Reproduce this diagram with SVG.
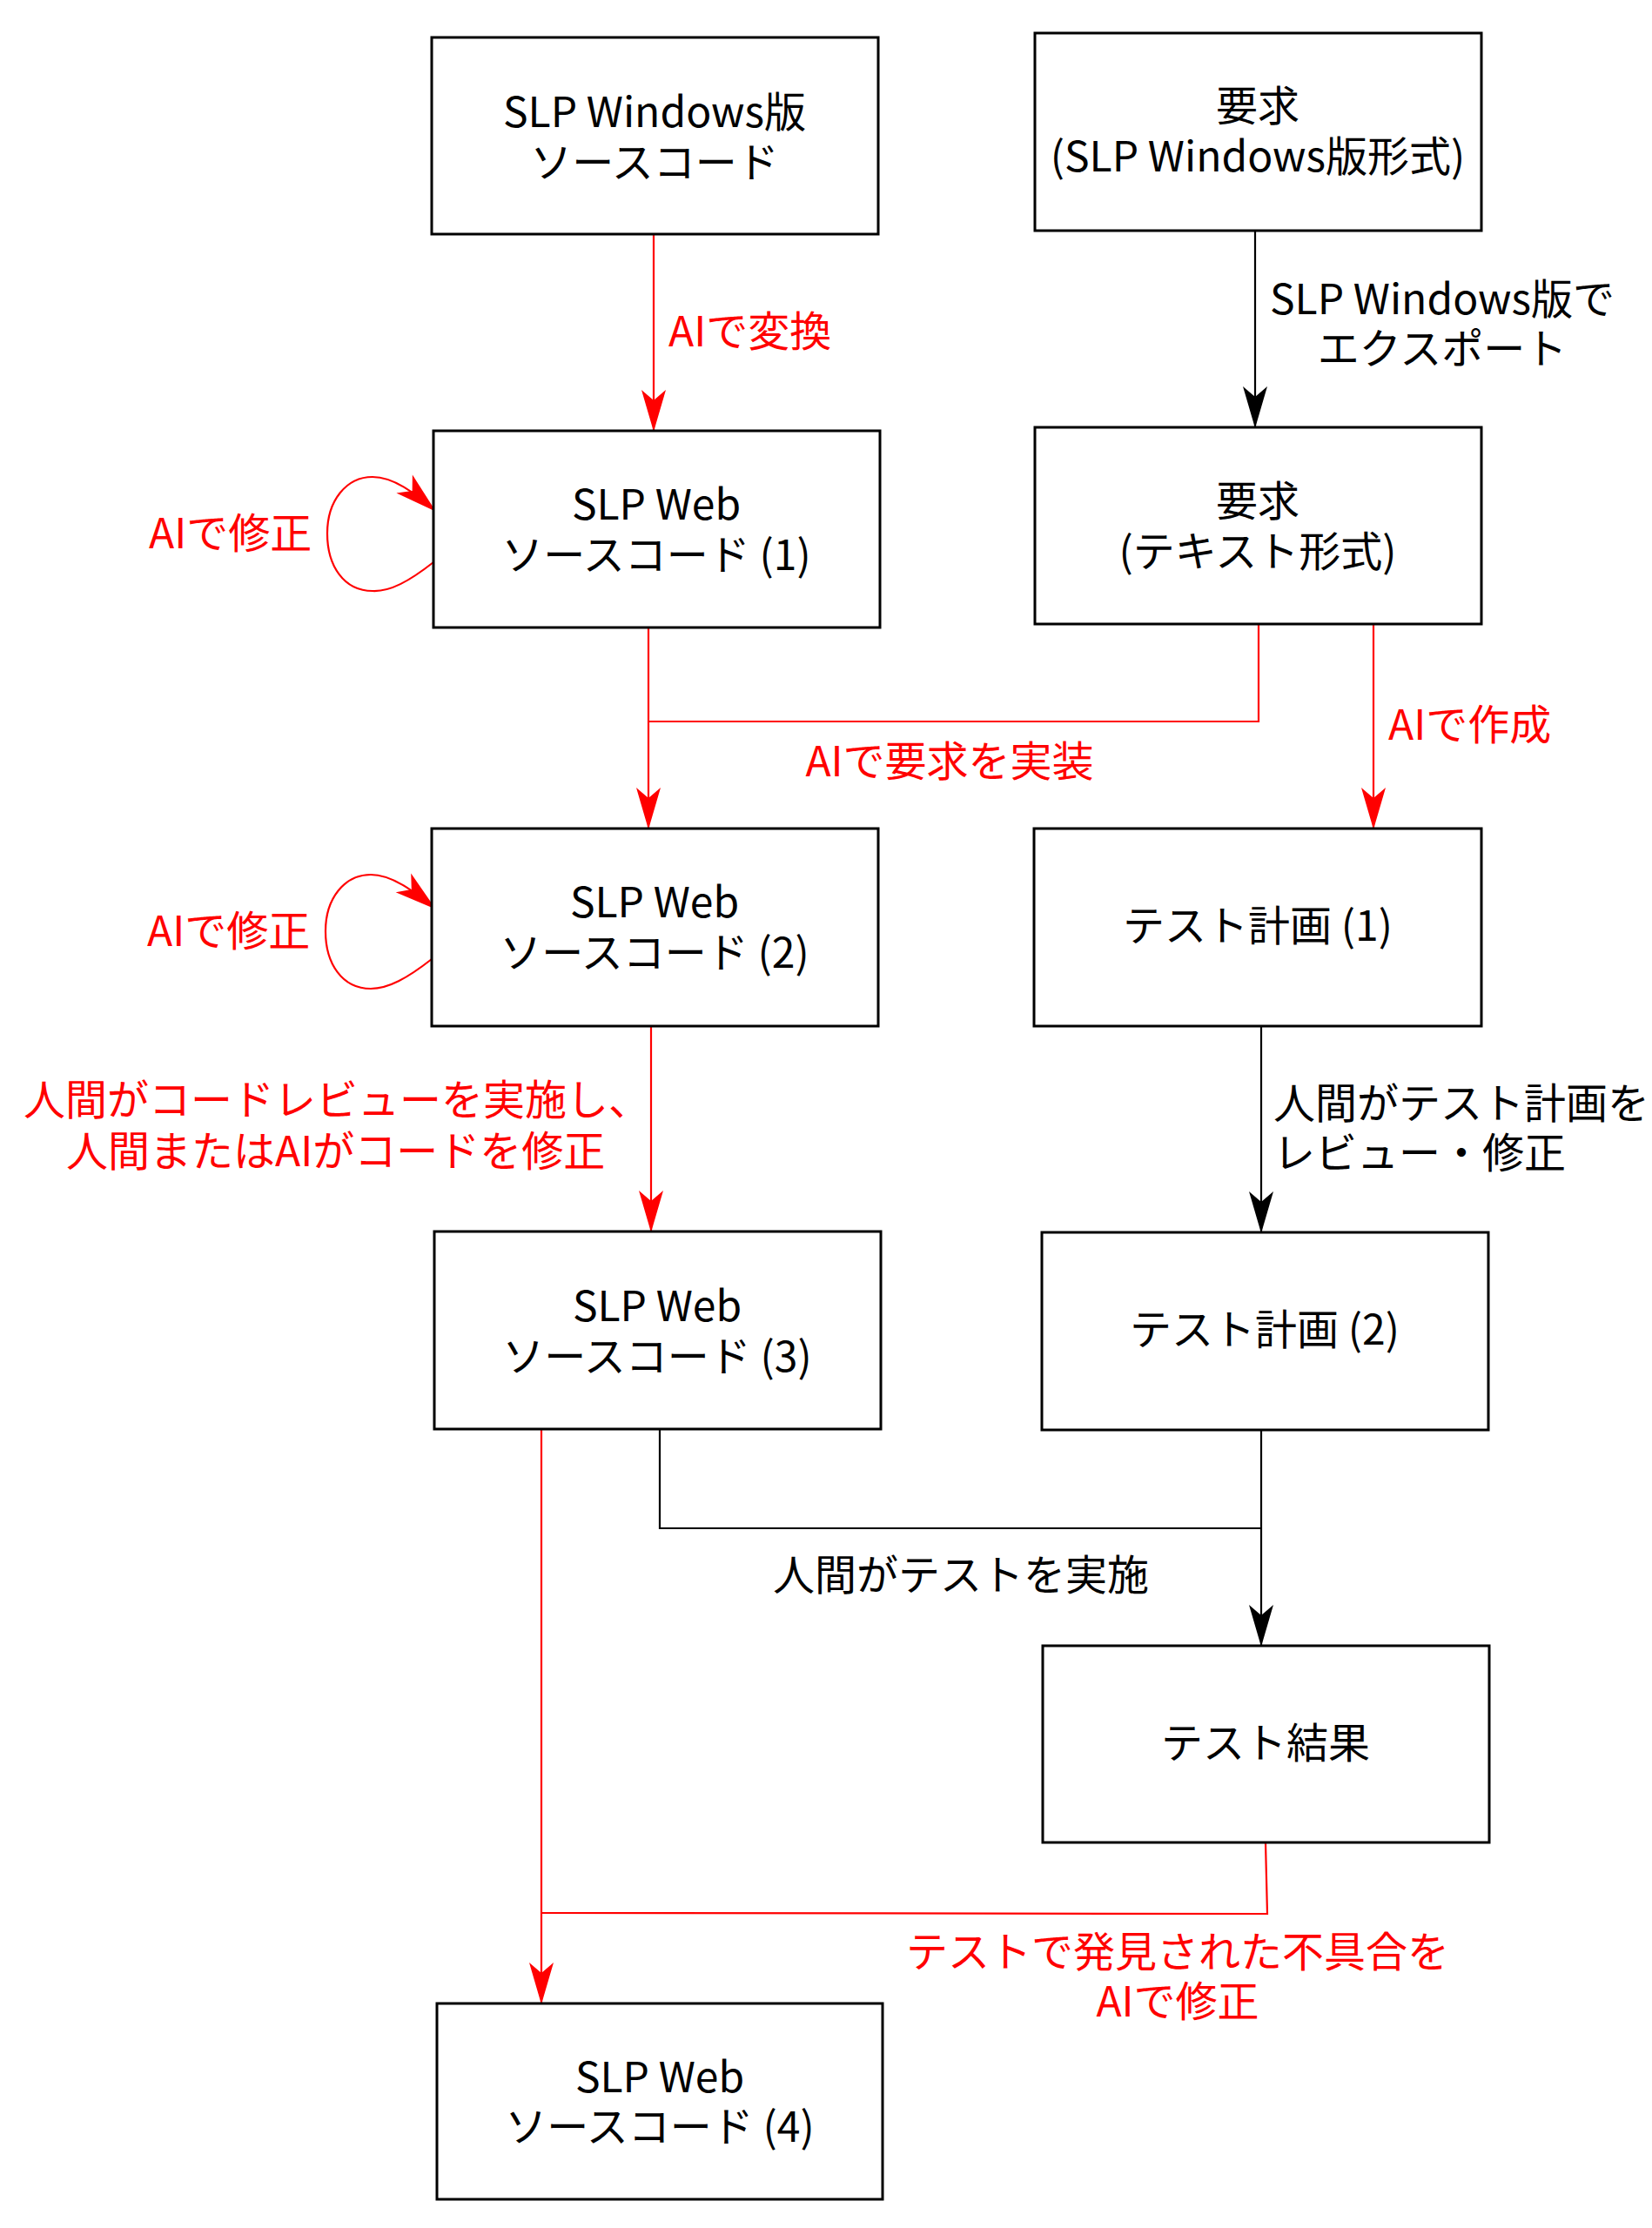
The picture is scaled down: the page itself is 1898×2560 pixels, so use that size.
<svg xmlns="http://www.w3.org/2000/svg" width="1898" height="2560" viewBox="0 0 1898 2560">
<style>
  .box { fill: #ffffff; stroke: #000000; stroke-width: 3; }
  .t { font-family: "Noto Sans CJK JP", "Noto Sans", sans-serif; font-size: 48px; }
  .c { text-anchor: middle; }
  .blk { fill: #000000; }
  .red { fill: #ff0000; }
  .lr { fill: none; stroke: #ff0000; stroke-width: 2.2; }
  .lb { fill: none; stroke: #000000; stroke-width: 2.2; }
</style>
<defs>
  <marker id="ar" markerUnits="userSpaceOnUse" viewBox="-50 -16 52 32" markerWidth="52" markerHeight="32" refX="0" refY="0" orient="auto">
    <path d="M1,0 L-47,-14 L-35,0 L-47,14 Z" fill="#ff0000"/>
  </marker>
  <marker id="ab" markerUnits="userSpaceOnUse" viewBox="-50 -16 52 32" markerWidth="52" markerHeight="32" refX="0" refY="0" orient="auto">
    <path d="M1,0 L-47,-14 L-35,0 L-47,14 Z" fill="#000000"/>
  </marker>
</defs>
<rect width="1898" height="2560" fill="#ffffff"/>

<g id="connectors">
  <path class="lr" d="M751,269 V495" marker-end="url(#ar)"/>
  <text class="t red" x="768" y="398">AIで変換</text>

  <path class="lb" d="M1442,265 V491" marker-end="url(#ab)"/>
  <text class="t blk c" x="1657" y="361">SLP Windows版で<tspan x="1657" dy="57">エクスポート</tspan></text>

  <path class="lr" d="M498,646 C470,668 448,680 428,679 C395,679 376,650 376,613 C376,575 398,548 428,548 C452,548 476,566 500,587" marker-end="url(#ar)"/>
  <text class="t red" x="171" y="630">AIで修正</text>

  <path class="lr" d="M1446,717 V829 H745"/>
  <path class="lr" d="M745,721 V952" marker-end="url(#ar)"/>
  <text class="t red c" x="1091" y="892">AIで要求を実装</text>

  <path class="lr" d="M1578,717 V952" marker-end="url(#ar)"/>
  <text class="t red" x="1595" y="850">AIで作成</text>

  <path class="lr" d="M496,1102 C468,1124 446,1136 426,1136 C393,1136 374,1107 374,1070 C374,1032 396,1005 426,1005 C450,1005 474,1023 500,1044" marker-end="url(#ar)"/>
  <text class="t red" x="169" y="1087">AIで修正</text>

  <path class="lr" d="M748,1179 V1415" marker-end="url(#ar)"/>
  <text class="t red" x="27" y="1281">人間がコードレビューを実施し、<tspan x="76" dy="59">人間またはAIがコードを修正</tspan></text>

  <path class="lb" d="M1449,1179 V1416" marker-end="url(#ab)"/>
  <text class="t blk" x="1463" y="1285">人間がテスト計画を<tspan x="1463" dy="57">レビュー・修正</tspan></text>

  <path class="lb" d="M758,1642 V1756 H1449"/>
  <path class="lb" d="M1449,1643 V1891" marker-end="url(#ab)"/>
  <text class="t blk c" x="1104" y="1827">人間がテストを実施</text>

  <path class="lr" d="M622,1642 V2302" marker-end="url(#ar)"/>
  <path class="lr" d="M1454,2117 L1456,2199 L622,2198"/>
  <text class="t red c" x="1353" y="2260">テストで発見された不具合を<tspan x="1353" dy="57">AIで修正</tspan></text>
</g>

<g id="n1">
  <rect class="box" x="496" y="43" width="513" height="226"/>
  <text class="t blk c" x="752" y="146">SLP Windows版<tspan x="752" dy="58">ソースコード</tspan></text>
</g>
<g id="n2">
  <rect class="box" x="1189" y="38" width="513" height="227"/>
  <text class="t blk c" x="1445" y="139">要求<tspan x="1445" dy="58">(SLP Windows版形式)</tspan></text>
</g>
<g id="n3">
  <rect class="box" x="498" y="495" width="513" height="226"/>
  <text class="t blk c" x="754" y="597">SLP Web<tspan x="754" dy="58">ソースコード (1)</tspan></text>
</g>
<g id="n4">
  <rect class="box" x="1189" y="491" width="513" height="226"/>
  <text class="t blk c" x="1445" y="593">要求<tspan x="1445" dy="58">(テキスト形式)</tspan></text>
</g>
<g id="n5">
  <rect class="box" x="496" y="952" width="513" height="227"/>
  <text class="t blk c" x="752" y="1054">SLP Web<tspan x="752" dy="58">ソースコード (2)</tspan></text>
</g>
<g id="n6">
  <rect class="box" x="1188" y="952" width="514" height="227"/>
  <text class="t blk c" x="1445" y="1081">テスト計画 (1)</text>
</g>
<g id="n7">
  <rect class="box" x="499" y="1415" width="513" height="227"/>
  <text class="t blk c" x="755" y="1518">SLP Web<tspan x="755" dy="58">ソースコード (3)</tspan></text>
</g>
<g id="n8">
  <rect class="box" x="1197" y="1416" width="513" height="227"/>
  <text class="t blk c" x="1453" y="1545">テスト計画 (2)</text>
</g>
<g id="n9">
  <rect class="box" x="1198" y="1891" width="513" height="226"/>
  <text class="t blk c" x="1454" y="2020">テスト結果</text>
</g>
<g id="n10">
  <rect class="box" x="502" y="2302" width="512" height="225"/>
  <text class="t blk c" x="758" y="2404">SLP Web<tspan x="758" dy="57">ソースコード (4)</tspan></text>
</g>
</svg>
